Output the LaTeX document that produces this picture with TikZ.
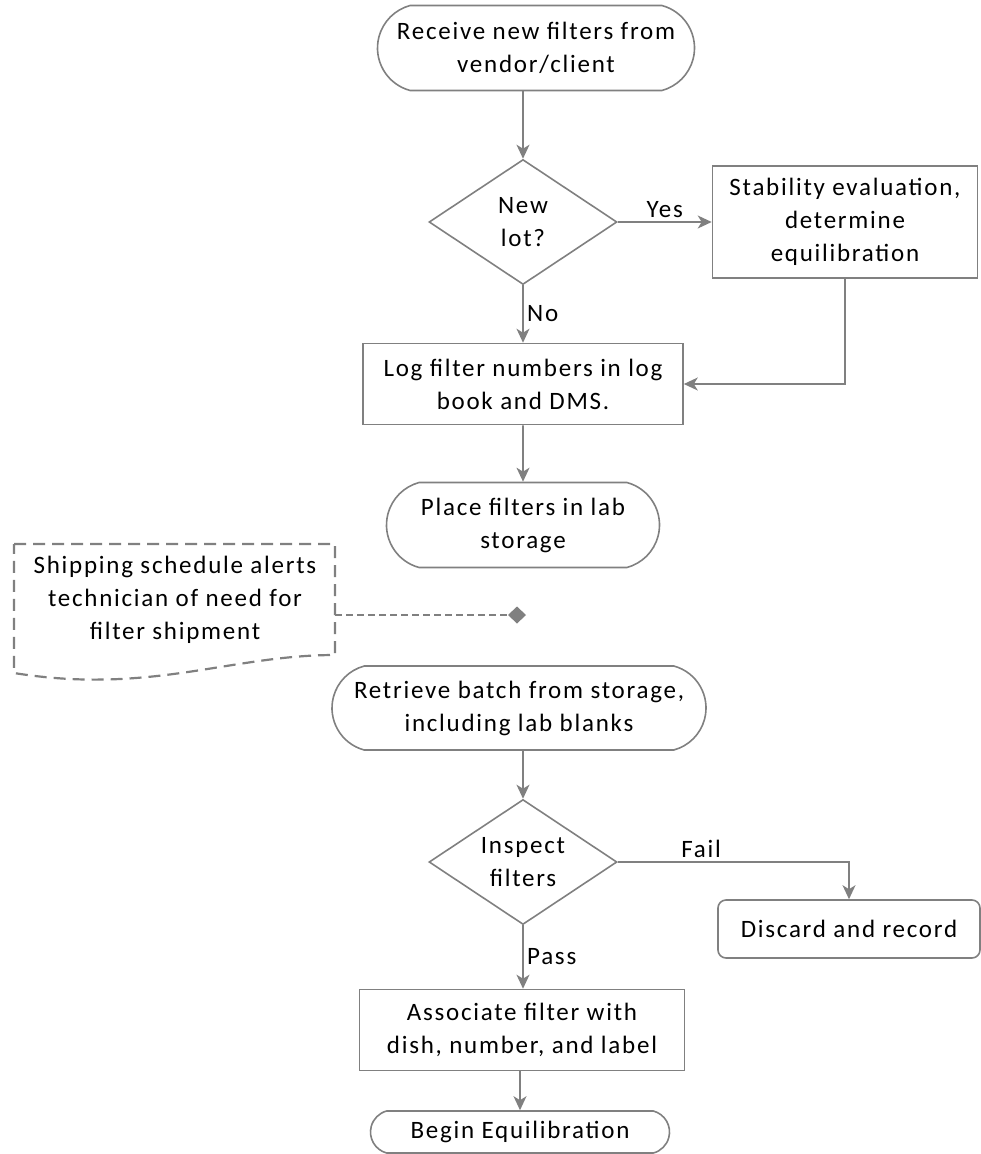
\documentclass[tikz,border=0pt]{standalone}
\usepackage{fontspec}
\setmainfont{Carlito}[LetterSpace=7]
\definecolor{mygray}{RGB}{128,128,128}
\usetikzlibrary{arrows.meta,positioning,shapes.geometric,shapes.misc}

\begin{document}
\begin{tikzpicture}[
  x=1pt, y=-1pt,
  font=\fontsize{25}{33}\selectfont,
  line width=1.6pt,
  myterm/.style={
    draw=mygray,
    rounded rectangle,
    rounded rectangle arc length=150,
    align=center,
    inner sep=0pt
    },
  mybox/.style={
    draw=mygray,
    rectangle,
    align=center,
    inner sep=0pt
    },
  mydiam/.style={
    draw=mygray,
    diamond,
    aspect=1.5,
    align=center,
    inner sep=0pt,
    minimum width=188pt,
    minimum height=125pt
    },
  myarrow/.style={
    draw=mygray,
    -{Stealth[length=14pt,width=13pt,inset=4pt]}
    }
]
\useasboundingbox (0,0) rectangle (981,1154);

% receiving part
\node[myterm, minimum width=317pt, minimum height=85pt] at (536,48) (recv) {Receive new filters from\\vendor/client};
\node[mydiam] at (523,222) (newlot) {New\\lot?};
\node[mybox, minimum width=265pt, minimum height=112pt] at (845,222) (stab) {Stability evaluation,\\determine\\equilibration};
\node[mybox, minimum width=320pt, minimum height=81pt] at (523,384) (logf) {Log filter numbers in log\\book and DMS.};
\node[myterm, minimum width=273pt, minimum height=85pt] at (523,525) (place) {Place filters in lab\\storage};

\draw[myarrow] (recv.south -| newlot.north) -- (newlot.north);
\draw[myarrow] (newlot) -- node[above, black] {Yes} (stab);
\draw[myarrow] (newlot) -- node[right, black] {No} (logf);
\draw[myarrow] (stab.south) |- (logf.east);
\draw[myarrow] (logf) -- (place);

% shipping schedule (document shape)
\draw[mygray, line width=2.2pt, dash pattern=on 12pt off 7pt]
  (14,544) -- (335,544) -- (335,655)
  .. controls (230,655) and (150,695) .. (14,673) -- cycle;
\node[align=center] at (175,600) (ship) {Shipping schedule alerts\\technician of need for\\filter shipment};
\coordinate (shipout) at (335,615);
\coordinate (alert) at (526,615);
\draw[mygray, dash pattern=on 7pt off 4pt, -{Diamond[length=18pt,width=17pt]}] (shipout) -- (alert);

% shipping part
\node[myterm, minimum width=374pt, minimum height=84pt] at (519,708) (retr) {Retrieve batch from storage,\\including lab blanks};
\node[mydiam] at (523,862) (insp) {Inspect\\filters};
\node[mybox, rounded corners=8pt, minimum width=262pt, minimum height=58pt] at (849,929) (disc) {Discard and record};
\node[mybox, minimum width=325pt, minimum height=81pt] at (522,1030) (assoc) {Associate filter with\\dish, number, and label};
\node[myterm, minimum width=299pt, minimum height=42pt] at (520,1132) (begin) {Begin Equilibration};

\draw[myarrow] (retr.south -| insp.north) -- (insp.north);
\draw[myarrow] (insp.east) -| node[above, pos=0.18, black] {Fail} (disc.north);
\draw[myarrow] (insp.south) -- node[right, black] {Pass} (insp.south |- assoc.north);
\draw[myarrow] (assoc.south -| begin.north) -- (begin.north);

\end{tikzpicture}
\end{document}
